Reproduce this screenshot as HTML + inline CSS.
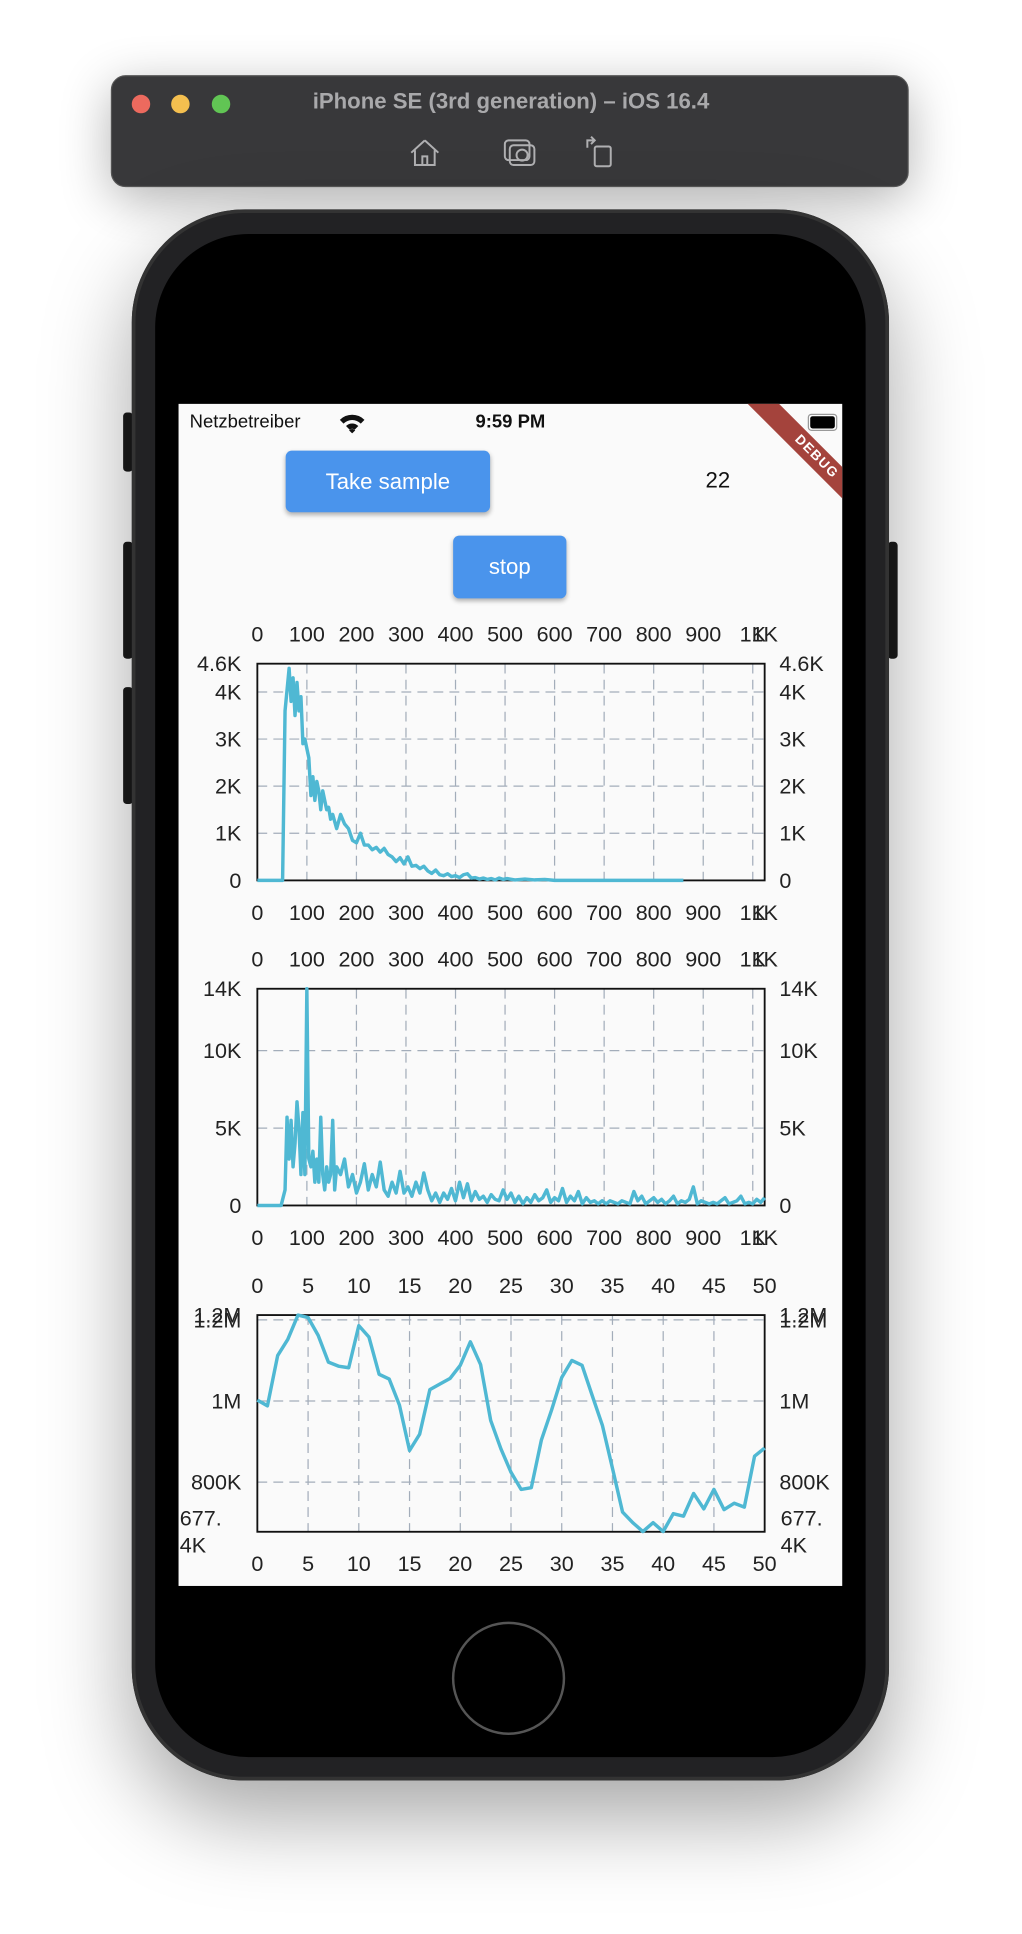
<!DOCTYPE html>
<html><head><meta charset="utf-8">
<style>
html,body{margin:0;padding:0;background:#fff;width:1022px;height:1934px;overflow:hidden;font-family:"Liberation Sans",sans-serif;}
#wrap{position:absolute;left:0;top:0;width:830px;height:1571px;transform:scale(1.23133);transform-origin:0 0;}
.abs{position:absolute;}
#titlebar{left:90px;top:61px;width:648px;height:91px;background:#38383a;border-radius:12px;border:1px solid #555;box-sizing:border-box;box-shadow:0 10px 40px rgba(0,0,0,.3);}
.dot{width:15px;height:15px;border-radius:50%;top:15px;}
#title{left:0;width:648px;top:10px;text-align:center;color:#a9a9ab;font-weight:bold;font-size:18px;}
#phone{left:107px;top:170px;width:615px;height:1276px;border-radius:92px;background:#222224;box-shadow:0 30px 70px rgba(0,0,0,.35),inset 0 0 0 3px #333;}
#inner{left:126px;top:190px;width:577px;height:1237px;border-radius:76px;background:#000;}
#screen{left:145px;top:328px;width:539px;height:960px;background:#fafafa;overflow:hidden;}
.side{background:#1a1a1a;width:8px;border-radius:3px;}
.btn{background:#4a94ec;color:#fff;border-radius:5px;box-shadow:0 2px 4px rgba(0,0,0,.3);text-align:center;font-size:18px;}
svg text{font-family:"Liberation Sans",sans-serif;font-size:17.5px;fill:#222;}
</style></head><body>
<div id="wrap">
 <div id="titlebar" class="abs">
  <div class="abs dot" style="left:16px;background:#ec6a5e"></div>
  <div class="abs dot" style="left:48px;background:#f4bf4f"></div>
  <div class="abs dot" style="left:81px;background:#61c554"></div>
  <div id="title" class="abs">iPhone SE (3rd generation) – iOS 16.4</div>
  <svg class="abs" style="left:240px;top:48px" width="170" height="30">
   <g fill="none" stroke="#b0b0b2" stroke-width="1.6">
    <path d="M14 4 L3 14 M14 4 L25 14 M6 12 V24 H22 V12 M12 24 V17 H16 V24"/>
    <g><rect x="83" y="8" width="20" height="16" rx="3"/><rect x="79" y="4" width="20" height="16" rx="3"/><circle cx="93" cy="16" r="4.5"/></g>
    <g><rect x="152" y="9" width="13" height="16" rx="1.5"/><path d="M146 10 V4 H152 M149 1 L152 4 L149 7"/></g>
   </g>
  </svg>
 </div>
 <div class="abs side" style="left:100px;top:335px;height:48px"></div>
 <div class="abs side" style="left:100px;top:440px;height:95px"></div>
 <div class="abs side" style="left:100px;top:558px;height:95px"></div>
 <div class="abs side" style="left:721px;top:440px;height:95px"></div>
 <div id="phone" class="abs"></div>
 <div id="inner" class="abs"></div>
 <div class="abs" style="left:367px;top:1317px;width:92px;height:92px;border-radius:50%;border:2px solid #555;box-sizing:border-box"></div>
 <div id="screen" class="abs">
  <div class="abs" style="left:9px;top:6px;font-size:15px;color:#111">Netzbetreiber</div>
  <svg class="abs" style="left:130px;top:6px" width="22" height="18"><path d="M1 7 A14 14 0 0 1 21 7 L18 10 A10 10 0 0 0 4 10 Z M6 12 A7 7 0 0 1 16 12 L13 15 A3 3 0 0 0 9 15 Z M11 18 L8.5 15.5 A3.5 3.5 0 0 1 13.5 15.5 Z" fill="#111"/></svg>
  <div class="abs" style="left:0;width:539px;top:6px;text-align:center;font-size:15px;font-weight:bold;color:#111">9:59 PM</div>
  <div class="abs" style="left:511px;top:8px;width:20px;height:10px;border:1.5px solid #999;border-radius:3px;padding:1px;box-sizing:content-box"><div style="width:20px;height:10px;background:#000;border-radius:2px"></div></div>
  <div class="abs" style="left:448px;top:34px;width:140px;height:18px;background:#a4433c;transform:rotate(45deg);color:#fff;font-weight:bold;font-size:11px;text-align:center;line-height:18px;letter-spacing:1px">DEBUG</div>
  <div class="abs btn" style="left:87px;top:38px;width:166px;height:50px;line-height:50px">Take sample</div>
  <div class="abs" style="left:428px;top:52px;font-size:18px;color:#111">22</div>
  <div class="abs btn" style="left:223px;top:107px;width:92px;height:51px;line-height:51px">stop</div>
 </div>
 <svg id="charts" class="abs" style="left:0;top:0" width="830" height="1571"></svg>
</div>
<script>
// Chart 1: spectrum (bins, values in K)
const c1Bins=[0,48,51,56,64,68,72,76,80,84,88,92,96,100,104,108,112,116,120,124,128,132,136,140,144,148,152,156,160,168,176,184,192,200,208,216,224,232,240,248,256,264,272,280,288,296,304,312,320,328,336,344,352,360,368,376,384,392,400,408,416,424,432,440,448,456,464,472,480,488,496,504,520,540,560,580,600,640,680,700,760,860,1024];
const c1Vals=[0,0,0,3.6,4.5,3.8,4.3,3.5,4.2,3.6,3.9,2.9,3.0,2.8,2.6,1.8,2.2,1.7,2.1,1.9,1.5,1.9,1.7,1.5,1.55,1.3,1.4,1.25,1.1,1.4,1.2,1.1,0.85,0.8,1.0,0.75,0.75,0.65,0.7,0.6,0.68,0.55,0.5,0.4,0.48,0.35,0.5,0.3,0.32,0.25,0.3,0.2,0.15,0.22,0.12,0.1,0.14,0.08,0.1,0.06,0.12,0.14,0.05,0.06,0.03,0.05,0.02,0.04,0.01,0.05,0.02,0.04,0.01,0.03,0.01,0.02,0,0,0,0,0,0];
// Chart 2: spectrum 2 (bins, values in K)
const c2Bins=[0,48,52,56,60,64,68,72,76,80,84,88,92,96,100,104,108,112,116,120,124,128,132,136,140,144,148,152,156,160,168,176,184,192,200,208,216,224,232,240,248,256,264,272,280,288,296,304,312,320,328,336,344,352,360,368,376,384,392,400,408,416,424,432,440,448,456,464,472,480,488,496,504,512,520,528,536,544,552,560,568,576,584,592,600,608,616,624,632,640,648,656,664,672,680,688,696,704,712,720,728,736,744,752,760,768,776,784,792,800,808,816,824,832,840,848,856,864,872,880,888,896,904,912,920,928,936,944,952,960,968,976,984,992,1000,1008,1016,1024];
const c2Vals=[0,0,0.5,1,5.7,3,5.5,2.5,4,6.7,5,2,6,2,14,3,2.5,3.5,1.5,3,1.5,5.7,2,1,2.5,1.5,2,5.5,1,2.5,2,3,1.2,2,0.8,1.5,2.7,1,2,1.2,2.8,1,0.6,1.5,0.8,2.2,0.8,1.2,0.6,1.5,0.8,2.1,1,0.3,0.8,0.2,0.8,0.4,1.1,0.3,1.5,0.5,1.4,0.3,0.9,0.4,0.6,0.2,0.7,0.4,0.3,1,0.4,0.8,0.2,0.6,0.1,0.5,0.2,0.7,0.3,0.5,1,0.2,0.5,0.3,1.1,0.2,0.6,0.3,0.9,0.1,0.5,0.2,0.3,0.1,0.3,0.1,0.3,0.2,0.1,0.3,0.2,0.1,0.9,0.3,0.6,0.1,0.3,0.5,0.2,0.4,0.1,0.3,0.6,0.1,0.3,0.2,0.4,1.2,0.1,0.3,0.2,0.1,0.2,0.1,0.3,0.5,0.1,0.2,0.3,0.6,0.1,0.2,0.1,0.4,0.2,0.5];
// Chart 3: time series (values in K)
const c3Vals=[1002,988,1112,1152,1212,1206,1162,1096,1086,1082,1186,1158,1066,1054,990,878,918,1028,1042,1056,1088,1146,1090,952,882,824,782,786,904,978,1058,1100,1088,1014,940,834,726,700,678,700,678,722,716,772,734,782,732,748,738,864,884];
const xTicksK=[0,100,200,300,400,500,600,700,800,900,1000];
const xTickLabelsK=["0","100","200","300","400","500","600","700","800","900","1K"];
const xTicks3=[0,5,10,15,20,25,30,35,40,45,50];
const y1Ticks=[0,1,2,3,4],y1Labels=["0","1K","2K","3K","4K"];
const y2Ticks=[0,5,10],y2Labels=["0","5K","10K"];
const y3Ticks=[800,1000,1200],y3Labels=["800K","1M","1.2M"];

const svg=document.getElementById('charts');
const NS='http://www.w3.org/2000/svg';
function el(tag,attrs,parent){const e=document.createElementNS(NS,tag);for(const k in attrs)e.setAttribute(k,attrs[k]);(parent||svg).appendChild(e);return e;}
function txt(s,x,y,anchor,name){const t=el('text',{x:x,y:y,'text-anchor':anchor});t.textContent=s;


return t;}

function chart(cfg){
 const L=209,R=621,T=cfg.top,B=cfg.top+176;
 const sx=v=>L+(v-cfg.xmin)/(cfg.xmax-cfg.xmin)*(R-L);
 const sy=v=>B-(v-cfg.ymin)/(cfg.ymax-cfg.ymin)*(B-T);
 const g=el('g',{});
 
 
 el('rect',{x:L,y:T,width:R-L,height:B-T,fill:'#fafafa'},g);
 cfg.xt.forEach(v=>{if(v>cfg.xmin&&v<cfg.xmax){const l=el('line',{x1:sx(v),x2:sx(v),y1:T,y2:B,stroke:'#a3adba','stroke-width':1,'stroke-dasharray':'8,5'},g);
 
 }});
 cfg.yt.forEach(v=>{if(v>cfg.ymin&&v<cfg.ymax+0.0001){const l=el('line',{x1:L,x2:R,y1:sy(v),y2:sy(v),stroke:'#a3adba','stroke-width':1,'stroke-dasharray':'8,5'},g);
 
 }});
 const f=el('rect',{x:L,y:T,width:R-L,height:B-T,fill:'none',stroke:'#111','stroke-width':1.5},g);
 
 
 const d=cfg.xs.map((x,i)=>(i?'L':'M')+sx(x).toFixed(1)+' '+sy(cfg.ys[i]).toFixed(1)).join(' ');
 const p=el('path',{d:d,fill:'none',stroke:'#4fb8d3','stroke-width':2.8,'stroke-linejoin':'round'},g);
 
 
 cfg.xt.forEach((v,i)=>{g.appendChild(txt(cfg.xl[i],sx(v),T-18,'middle','x-tick-top'));g.appendChild(txt(cfg.xl[i],sx(v),B+32,'middle','x-tick-bottom'));});
 if(cfg.xmaxLabel){g.appendChild(txt(cfg.xmaxLabel,R,T-18,'middle','x-tick-top'));g.appendChild(txt(cfg.xmaxLabel,R,B+32,'middle','x-tick-bottom'));}
 cfg.yt.forEach((v,i)=>{g.appendChild(txt(cfg.yl[i],196,sy(v)+6,'end','y-tick-left'));g.appendChild(txt(cfg.yl[i],633,sy(v)+6,'start','y-tick-right'));});
 if(cfg.topLabel){g.appendChild(txt(cfg.topLabel,196,T+6,'end','y-max-left'));g.appendChild(txt(cfg.topLabel,633,T+6,'start','y-max-right'));}
 if(cfg.botLabel){[[146,'start'],[634,'start']].forEach(([x,a])=>{g.appendChild(txt(cfg.botLabel[0],x,B-5,a,'y-min-label'));g.appendChild(txt(cfg.botLabel[1],x,B+17,a,'y-min-label'));});}
}
chart({name:'spectrum-chart-1',top:539,xmin:0,xmax:1024,ymin:0,ymax:4.6,xs:c1Bins,ys:c1Vals,xt:xTicksK,xl:xTickLabelsK,xmaxLabel:'1K',yt:y1Ticks,yl:y1Labels,topLabel:'4.6K'});
chart({name:'spectrum-chart-2',top:803,xmin:0,xmax:1024,ymin:0,ymax:14,xs:c2Bins,ys:c2Vals,xt:xTicksK,xl:xTickLabelsK,xmaxLabel:'1K',yt:y2Ticks,yl:y2Labels,topLabel:'14K'});
chart({name:'time-series-chart',top:1068,xmin:0,xmax:50,ymin:677.4,ymax:1212,xs:c3Vals.map((v,i)=>i),ys:c3Vals,xt:xTicks3,xl:xTicks3.map(String),yt:y3Ticks,yl:y3Labels,topLabel:'1.2M',botLabel:['677.','4K']});
</script>
</body></html>
